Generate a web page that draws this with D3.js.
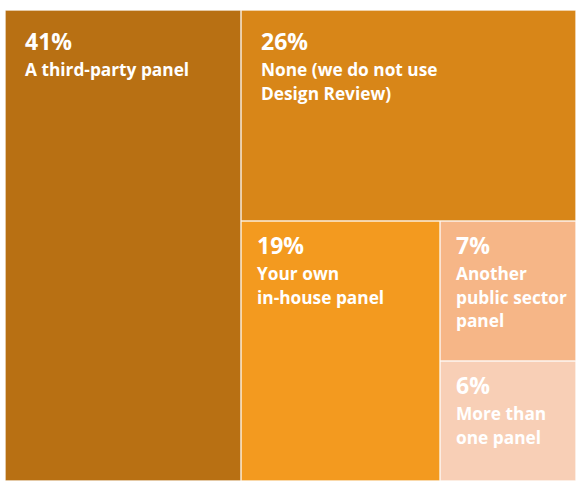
<!DOCTYPE html>
<html>
<head>
<meta charset="utf-8">
<script src="https://cdn.jsdelivr.net/npm/d3@7"></script>
<style>
  html, body { margin: 0; padding: 0; background: #ffffff; overflow: hidden; }
  svg { display: block; }
  text { font-family: "Open Sans", "DejaVu Sans", sans-serif; font-weight: 700; fill: #ffffff; }
</style>
</head>
<body>
<svg id="chart" width="576" height="481"></svg>
<script>
// Design Review panel type — share of respondents
const categories = [
  ["A third-party panel"],
  ["None (we do not use", "Design Review)"],
  ["Your own", "in-house panel"],
  ["Another", "public sector", "panel"],
  ["More than", "one panel"]
];
const values = [41, 26, 19, 7, 6];
const colors = ["#B87013", "#D88618", "#F39A1F", "#F6B687", "#F8CFB6"];

const W = 576, H = 481;
const margin = { top: 10, right: 0, bottom: 0, left: 5 };
const innerW = W - margin.left - margin.right;
const innerH = H - margin.top - margin.bottom;

// Alternating strip tiling: each child takes a full-height column or a
// full-width row of the remaining space, switching direction every step.
function alternateTile(parent, x0, y0, x1, y1) {
  const nodes = parent.children;
  let remaining = parent.value;
  nodes.forEach((node, i) => {
    const last = i === nodes.length - 1;
    const k = last ? 1 : node.value / remaining;
    if (i % 2 === 0) {
      const xm = x0 + (x1 - x0) * k;
      node.x0 = x0; node.x1 = xm; node.y0 = y0; node.y1 = y1;
      x0 = xm;
    } else {
      const ym = y0 + (y1 - y0) * k;
      node.x0 = x0; node.x1 = x1; node.y0 = y0; node.y1 = ym;
      y0 = ym;
    }
    remaining -= node.value;
  });
}

const rootData = {
  children: values.map((v, i) => ({ name: categories[i], value: v, color: colors[i] }))
};

const root = d3.hierarchy(rootData)
  .sum(d => d.value || 0)
  .sort((a, b) => b.value - a.value);

d3.treemap()
  .tile(alternateTile)
  .size([innerW, innerH])
  .paddingInner(0)
  .round(true)(root);

const svg = d3.select("#chart");
const g = svg.append("g").attr("transform", `translate(${margin.left},${margin.top})`);

const cell = g.selectAll("g.cell")
  .data(root.leaves())
  .join("g")
  .attr("class", "cell")
  .attr("transform", d => `translate(${d.x0},${d.y0})`);

cell.append("rect")
  .attr("x", 0.5)
  .attr("y", 0.5)
  .attr("width", d => d.x1 - d.x0 - 1)
  .attr("height", d => d.y1 - d.y0 - 1)
  .attr("fill", d => d.data.color)
  .attr("stroke", "rgba(255,255,255,0.25)")
  .attr("stroke-width", 1);

// value + wrapped label in the top-left corner of each cell
const label = cell.append("text")
  .attr("transform", d => d.y0 === 0 ? "translate(20,40)" : "translate(16,33)");

label.append("tspan")
  .attr("x", 0)
  .attr("y", 0)
  .attr("font-size", 23)
  .text(d => d.data.value + "%");

label.selectAll("tspan.line")
  .data(d => d.data.name)
  .join("tspan")
  .attr("class", "line")
  .attr("x", 0)
  .attr("y", (t, i) => 26 + i * 23.5)
  .attr("font-size", 17.3)
  .text(t => t);
</script>
</body>
</html>
